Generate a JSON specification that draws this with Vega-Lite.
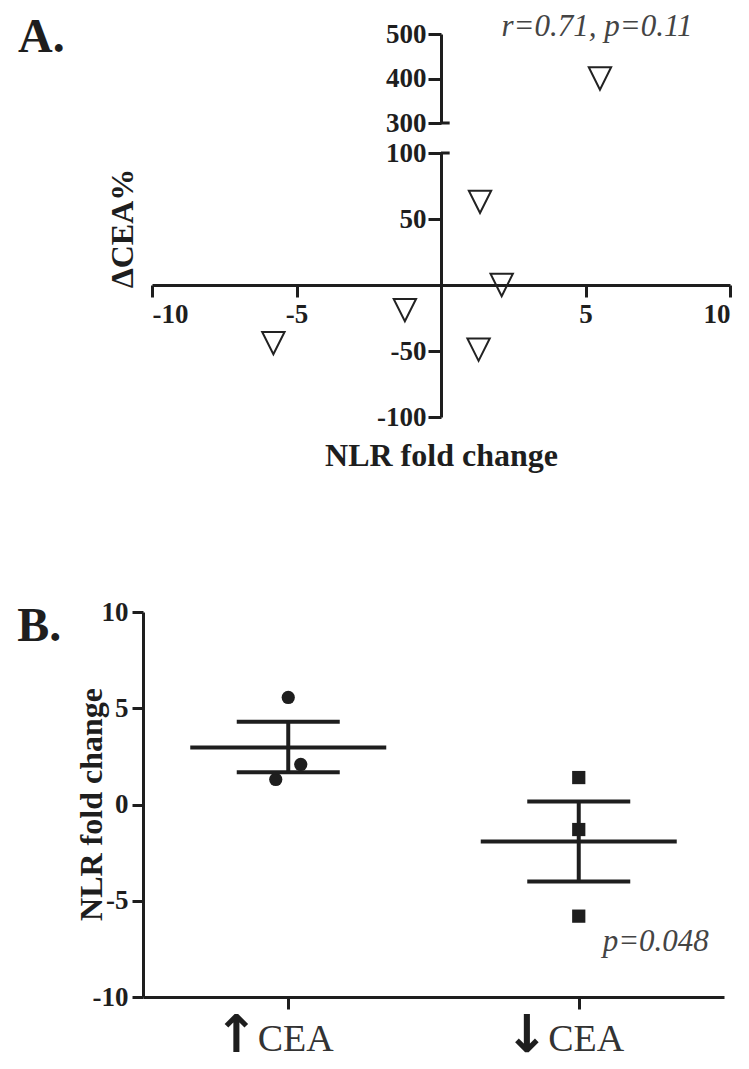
{
  "$schema": "https://vega.github.io/schema/vega-lite/v6.json",
  "padding": {"left": 17, "top": 11, "right": 5, "bottom": 8},
  "background": "white",
  "config": {
    "view": {"stroke": null},
    "font": "Liberation Serif",
    "axis": {
      "grid": false,
      "domainColor": "#1e1e1e", "domainWidth": 3,
      "tickColor": "#1e1e1e", "tickWidth": 3,
      "labelFont": "Liberation Serif", "labelFontWeight": "bold", "labelColor": "#1e1e1e", "labelFontSize": 27,
      "labelExpr": "'' + datum.value",
      "titleFont": "Liberation Serif", "titleFontWeight": "bold", "titleColor": "#1e1e1e", "titleFontSize": 32
    }
  },
  "datasets": {
    "corr": [
      {"nlr": 5.5, "cea": 400},
      {"nlr": 1.35, "cea": 63},
      {"nlr": 2.1, "cea": 0},
      {"nlr": -1.25, "cea": -19},
      {"nlr": -5.8, "cea": -44},
      {"nlr": 1.3, "cea": -49}
    ],
    "groups": [
      {"group": "↑CEA", "nlr": 5.56, "jitter": 0},
      {"group": "↑CEA", "nlr": 2.08, "jitter": 1},
      {"group": "↑CEA", "nlr": 1.3, "jitter": -1},
      {"group": "↓CEA", "nlr": 1.4, "jitter": 0},
      {"group": "↓CEA", "nlr": -1.3, "jitter": 0},
      {"group": "↓CEA", "nlr": -5.8, "jitter": 0}
    ],
    "summary": [
      {"group": "↑CEA", "arrow": "↑", "mean": 2.96, "lo": 1.68, "hi": 4.3},
      {"group": "↓CEA", "arrow": "↓", "mean": -1.92, "lo": -4.0, "hi": 0.15}
    ]
  },
  "concat": [
    {
      "concat": [
        {
          "width": 587, "height": 89,
          "layer": [
            {
              "data": {"name": "corr"},
              "transform": [{"filter": "datum.cea >= 300"}],
              "mark": {"type": "point", "shape": "M-1,-1L1,-1L0,1Z", "size": 500, "filled": false, "color": "#222", "strokeWidth": 2, "opacity": 1},
              "encoding": {
                "x": {"field": "nlr", "type": "quantitative", "scale": {"domain": [-10, 10], "nice": false, "range": [9, 587]}, "axis": null},
                "y": {"field": "cea", "type": "quantitative", "scale": {"domain": [300, 500], "nice": false, "zero": false},
                      "axis": {"values": [300, 400, 500], "offset": -298, "title": null, "tickSize": 13, "labelPadding": 2}}
              }
            },
            {
              "data": {"values": [{"brk": 300}]},
              "mark": {"type": "rule", "color": "#1e1e1e", "strokeWidth": 3},
              "encoding": {"x": {"datum": 0}, "x2": {"datum": 0.3}, "y": {"field": "brk", "type": "quantitative"}}
            },
            {
              "data": {"values": [{"label": "A."}]},
              "mark": {"type": "text", "font": "Liberation Serif", "fontWeight": "bold", "fontSize": 48, "align": "left", "baseline": "alphabetic", "dx": -134, "dy": 18, "color": "#1e1e1e"},
              "encoding": {"x": {"datum": -10}, "y": {"datum": 500}, "text": {"field": "label"}}
            },
            {
              "data": {"values": [{"label": "r=0.71, p=0.11"}]},
              "mark": {"type": "text", "font": "Liberation Serif", "fontStyle": "italic", "fontSize": 31, "align": "center", "baseline": "alphabetic", "dy": 2, "color": "#444"},
              "encoding": {"x": {"datum": 5.4}, "y": {"datum": 500}, "text": {"field": "label"}}
            }
          ]
        },
        {
          "width": 587, "height": 264,
          "layer": [
            {
              "data": {"name": "corr"},
              "transform": [{"filter": "datum.cea < 300"}],
              "mark": {"type": "point", "shape": "M-1,-1L1,-1L0,1Z", "size": 500, "filled": false, "color": "#222", "strokeWidth": 2, "opacity": 1},
              "encoding": {
                "x": {"field": "nlr", "type": "quantitative", "scale": {"domain": [-10, 10], "nice": false, "range": [9, 587]},
                      "axis": {"values": [-10, -5, 5, 10], "offset": -132, "tickSize": 12, "labelPadding": 4, "title": "NLR fold change", "titleX": 298, "titleY": 180, "titleBaseline": "alphabetic"}},
                "y": {"field": "cea", "type": "quantitative", "scale": {"domain": [-100, 100], "nice": false},
                      "axis": {"values": [-100, -50, 50, 100], "offset": -298, "tickSize": 13, "labelPadding": 2, "title": "ΔCEA%", "titleX": -319, "titleY": 75, "titleAngle": 270, "titleAlign": "center", "titleBaseline": "middle"}}
              }
            },
            {
              "data": {"values": [{"brk": 100}]},
              "mark": {"type": "rule", "color": "#1e1e1e", "strokeWidth": 3},
              "encoding": {"x": {"datum": 0}, "x2": {"datum": 0.3}, "y": {"field": "brk", "type": "quantitative"}}
            }
          ]
        }
      ],
      "columns": 1,
      "spacing": 30,
      "bounds": "flush"
    },
    {
      "width": 581, "height": 385,
      "layer": [
        {
          "data": {"name": "groups"},
          "mark": {"type": "point", "filled": true, "opacity": 1, "color": "#1e1e1e", "size": 175},
          "encoding": {
            "x": {"field": "group", "type": "nominal", "sort": ["↑CEA", "↓CEA"], "scale": {"type": "point", "padding": 0.5, "domain": ["↑CEA", "↓CEA"]},
                  "axis": {"title": null, "tickSize": 12, "labelPadding": 11, "labelOffset": 7, "labelExpr": "slice(datum.label, 1)", "labelFontWeight": "normal", "labelFontSize": 38, "labelColor": "#333", "labelAngle": 0}},
            "xOffset": {"field": "jitter", "type": "quantitative", "scale": {"domain": [-1, 1], "range": [-12.5, 12.5]}},
            "y": {"field": "nlr", "type": "quantitative", "scale": {"domain": [-10, 10], "nice": false},
                  "axis": {"values": [-10, -5, 0, 5, 10], "tickSize": 11, "labelPadding": 4, "title": "NLR fold change", "titleX": -52, "titleY": 192, "titleAngle": 270, "titleAlign": "center", "titleBaseline": "middle"}},
            "shape": {"field": "group", "type": "nominal", "scale": {"domain": ["↑CEA", "↓CEA"], "range": ["circle", "square"]}, "legend": null}
          }
        },
        {
          "data": {"name": "summary"},
          "mark": {"type": "tick", "orient": "horizontal", "size": 196, "thickness": 4, "color": "#1e1e1e", "opacity": 1},
          "encoding": {"x": {"field": "group", "type": "nominal"}, "y": {"field": "mean", "type": "quantitative"}}
        },
        {
          "data": {"name": "summary"},
          "mark": {"type": "tick", "orient": "horizontal", "size": 103, "thickness": 4, "color": "#1e1e1e", "opacity": 1},
          "encoding": {"x": {"field": "group", "type": "nominal"}, "y": {"field": "lo", "type": "quantitative"}}
        },
        {
          "data": {"name": "summary"},
          "mark": {"type": "tick", "orient": "horizontal", "size": 103, "thickness": 4, "color": "#1e1e1e", "opacity": 1},
          "encoding": {"x": {"field": "group", "type": "nominal"}, "y": {"field": "hi", "type": "quantitative"}}
        },
        {
          "data": {"name": "summary"},
          "mark": {"type": "rule", "strokeWidth": 4, "color": "#1e1e1e"},
          "encoding": {"x": {"field": "group", "type": "nominal"}, "y": {"field": "lo", "type": "quantitative"}, "y2": {"field": "hi"}}
        },
        {
          "data": {"name": "summary"},
          "mark": {"type": "text", "font": "DejaVu Sans", "fontWeight": "bold", "fontSize": 52, "align": "center", "baseline": "middle", "dx": -52, "dy": 39, "color": "#1e1e1e"},
          "encoding": {"x": {"field": "group", "type": "nominal"}, "y": {"datum": -10}, "text": {"field": "arrow"}}
        },
        {
          "data": {"values": [{"label": "p=0.048"}]},
          "mark": {"type": "text", "font": "Liberation Serif", "fontStyle": "italic", "fontSize": 31, "align": "center", "baseline": "alphabetic", "dx": 77, "color": "#444"},
          "encoding": {"x": {"datum": "↓CEA"}, "y": {"datum": -7.6}, "text": {"field": "label"}}
        },
        {
          "data": {"values": [{"label": "B."}]},
          "mark": {"type": "text", "font": "Liberation Serif", "fontWeight": "bold", "fontSize": 48, "align": "left", "baseline": "alphabetic", "dx": -271, "dy": 29, "color": "#1e1e1e"},
          "encoding": {"x": {"datum": "↑CEA"}, "y": {"datum": 10}, "text": {"field": "label"}}
        }
      ]
    }
  ],
  "columns": 1,
  "spacing": 127
}
